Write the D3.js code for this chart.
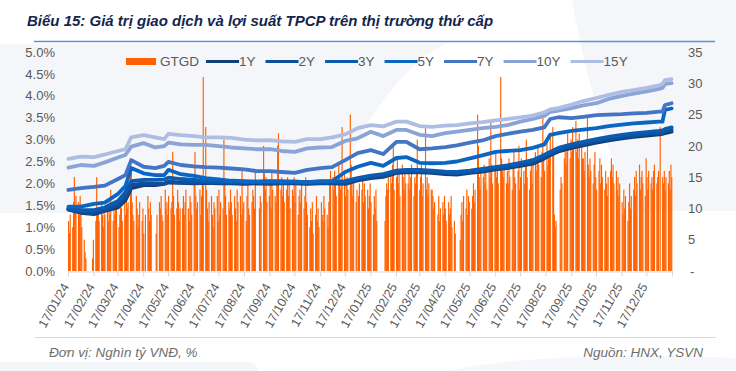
<!DOCTYPE html>
<html>
<head>
<meta charset="utf-8">
<title>Biểu 15</title>
<script src="https://d3js.org/d3.v7.min.js"></script>
<style>
  body { margin: 0; background: #fff; }
  svg { display: block; font-family: "Liberation Sans", Arial, sans-serif; }
  .axis text { fill: #595959; font-size: 13px; font-family: "Liberation Sans", Arial, sans-serif; }
  .axis path, .axis line { stroke: #d9d9d9; }
  .legend text { fill: #595959; font-size: 13.5px; }
  text.title { font-size: 15px; font-weight: bold; font-style: italic; fill: #14264f; }
  text.note { font-size: 13.5px; font-style: italic; fill: #6e6e6e; }
</style>
</head>
<body>
<svg width="736" height="371"></svg>
<script>
// ngày lấy mẫu cho các đường lợi suất
const lineDates = ['2024-01-17','2024-02-01','2024-02-17','2024-03-01','2024-03-17','2024-03-26','2024-04-02',
  '2024-04-17','2024-05-01','2024-05-12','2024-05-17','2024-06-01','2024-06-17','2024-07-01','2024-07-17',
  '2024-08-01','2024-08-17','2024-09-01','2024-09-17','2024-10-01','2024-10-17','2024-11-01','2024-11-17',
  '2024-12-01','2024-12-17','2025-01-01','2025-01-17','2025-02-01','2025-02-17','2025-03-01','2025-03-17',
  '2025-04-01','2025-04-17','2025-05-01','2025-05-17','2025-06-01','2025-06-17','2025-07-01','2025-07-17',
  '2025-08-01','2025-08-15','2025-08-22','2025-09-01','2025-09-17','2025-10-01','2025-10-17','2025-11-01',
  '2025-11-17','2025-12-01','2025-12-17','2026-01-01','2026-01-05','2026-01-08','2026-01-16'];

// lợi suất (%)
const y1 = [1.40,1.33,1.30,1.37,1.45,1.62,1.89,1.96,1.96,1.99,2.02,2.01,2.00,2.01,2.00,2.00,1.99,2.00,1.99,2.00,
  2.00,1.99,2.00,2.00,1.99,2.07,2.12,2.15,2.24,2.25,2.25,2.24,2.21,2.20,2.24,2.27,2.32,2.35,2.40,2.45,
  2.57,2.64,2.73,2.81,2.87,2.93,2.98,3.03,3.06,3.09,3.12,3.13,3.15,3.18];
const y2 = [1.41,1.35,1.32,1.39,1.51,1.69,1.96,2.00,1.99,2.00,2.04,2.02,2.02,2.02,2.02,2.01,2.01,2.02,2.01,2.01,
  2.02,2.01,2.02,2.01,2.01,2.09,2.15,2.17,2.26,2.27,2.27,2.26,2.24,2.23,2.26,2.29,2.34,2.37,2.42,2.49,
  2.60,2.67,2.76,2.84,2.90,2.97,3.01,3.06,3.09,3.13,3.15,3.16,3.20,3.23];
const y3 = [1.43,1.39,1.39,1.45,1.60,1.80,2.05,2.08,2.08,2.09,2.13,2.10,2.08,2.05,2.04,2.04,2.03,2.04,2.04,2.03,
  2.04,2.03,2.04,2.04,2.05,2.12,2.18,2.21,2.29,2.31,2.31,2.29,2.27,2.26,2.29,2.33,2.37,2.41,2.47,2.53,
  2.65,2.72,2.81,2.89,2.95,3.01,3.06,3.11,3.14,3.17,3.20,3.21,3.24,3.28];
const y5 = [1.47,1.47,1.53,1.56,1.76,1.94,2.35,2.23,2.19,2.19,2.31,2.21,2.17,2.12,2.09,2.06,2.05,2.04,2.05,2.05,
  2.04,2.03,2.05,2.05,2.26,2.38,2.47,2.40,2.58,2.60,2.47,2.46,2.47,2.50,2.57,2.64,2.72,2.74,2.76,2.81,
  2.89,3.11,3.15,3.20,3.23,3.26,3.31,3.34,3.37,3.39,3.41,3.41,3.68,3.71];
const y7 = [1.85,1.89,1.92,1.95,2.10,2.19,2.53,2.38,2.35,2.40,2.49,2.42,2.39,2.37,2.36,2.34,2.32,2.28,2.28,2.26,
  2.24,2.31,2.35,2.37,2.53,2.69,2.76,2.67,2.95,2.95,2.78,2.80,2.83,2.87,2.93,2.98,3.08,3.13,3.18,3.22,
  3.28,3.47,3.51,3.49,3.52,3.56,3.57,3.58,3.60,3.61,3.64,3.64,3.79,3.83];
const y10 = [2.36,2.42,2.40,2.48,2.59,2.65,2.84,2.92,2.82,2.85,2.93,2.89,2.88,2.88,2.85,2.82,2.80,2.78,2.78,2.74,
  2.72,2.80,2.82,2.83,2.97,3.03,3.18,3.08,3.22,3.22,3.11,3.08,3.15,3.18,3.22,3.26,3.29,3.33,3.41,3.47,
  3.54,3.63,3.66,3.72,3.78,3.83,3.93,4.00,4.05,4.10,4.16,4.18,4.27,4.29];
const y15 = [2.56,2.61,2.60,2.66,2.74,2.78,3.05,3.10,3.05,3.01,3.13,3.10,3.08,3.05,3.05,3.04,3.00,2.98,2.99,2.96,
  2.95,3.01,3.01,3.05,3.12,3.26,3.33,3.30,3.41,3.41,3.31,3.29,3.32,3.33,3.37,3.40,3.44,3.47,3.51,3.55,
  3.62,3.69,3.72,3.80,3.88,3.95,4.02,4.09,4.13,4.18,4.24,4.27,4.36,4.38];

// GTGD (nghìn tỷ VNĐ), một giá trị cho mỗi ngày thứ 2 - thứ 6 từ 17/01/24; 0 = nghỉ lễ
const gtgd = [
  8,6,9,7,11,15,10,12,11,9,12,                                  // 01/24
  10,7,5,3,2,0,0,0,0,0,2,5,8,15,9,10,8,11,9,7,10,               // 02/24
  9,10,8,11,9,13,8,10,9,11,10,7,9,12,10,8,11,9,12,10,11,        // 03/24
  18,16,11,9,8,12,10,7,9,11,8,10,6,0,9,12,10,8,11,9,0,0,        // 04/24
  0,6,9,11,10,12,9,8,13,10,11,9,12,10,11,19,12,9,10,13,11,8,10, // 05/24
  10,12,9,11,13,10,8,12,11,9,14,19,12,10,11,13,9,12,14,31,      // 06/24
  23,13,10,8,11,12,9,7,11,10,12,8,13,9,11,10,21,14,12,9,11,10,13, // 07/24
  11,9,12,10,8,13,11,12,9,16,10,11,8,12,14,10,9,11,13,12,10,16, // 08/24
  0,0,10,12,11,20,16,13,15,11,12,14,10,16,13,12,11,14,20,22,13, // 09/24
  15,12,14,11,13,15,12,14,10,13,12,15,11,14,9,12,13,11,14,10,12,15,11, // 10/24
  9,7,10,8,11,6,9,12,8,10,7,11,9,8,12,10,9,7,11,14,16,          // 11/24
  15,13,16,14,12,17,15,13,14,23,16,12,14,15,13,25,17,14,12,15,11,13, // 12/24
  0,12,14,13,15,11,14,12,13,10,12,14,11,9,12,10,13,8,0,0,0,0,0, // 01/25
  8,12,14,13,15,16,14,17,20,13,15,18,14,16,12,17,15,13,16,14,   // 02/25
  14,16,13,15,17,12,15,14,16,21,13,15,17,12,14,23,13,15,12,14,13, // 03/25
  13,12,10,11,0,9,12,8,10,11,9,12,10,8,11,9,10,12,7,8,6,0,      // 04/25
  0,0,5,9,11,8,12,10,13,9,12,11,10,12,14,11,13,25,20,15,13,16,  // 05/25
  15,17,14,16,13,18,15,24,17,14,16,19,15,17,14,31,18,16,15,17,14, // 06/25
  16,14,18,15,13,17,19,15,14,16,20,13,15,18,16,14,17,21,15,13,16,18,14, // 07/25
  17,19,16,18,20,17,15,19,25,18,16,21,17,19,18,22,23,19,9,7,8,  // 08/25
  0,0,13,15,14,18,20,17,19,22,18,21,19,23,20,24,19,21,18,22,20,18, // 09/25
  18,16,19,25,17,15,18,16,14,17,19,15,13,16,18,14,17,15,13,16,14,12,15, // 10/25
  16,18,15,17,14,16,13,15,12,14,11,9,13,10,12,8,11,14,10,12,    // 11/25
  13,15,12,16,14,17,13,15,16,14,12,18,15,13,16,14,15,13,16,17,14,15,16, // 12/25
  0,23,15,14,16,13,15,14,16,13,17,15                            // 01/26
];

const leftTicks = [0, 0.5, 1, 1.5, 2, 2.5, 3, 3.5, 4, 4.5, 5];
const rightTicks = [0, 5, 10, 15, 20, 25, 30, 35];
const xTicks = ['2024-01-17','2024-02-17','2024-03-17','2024-04-17','2024-05-17','2024-06-17','2024-07-17',
  '2024-08-17','2024-09-17','2024-10-17','2024-11-17','2024-12-17','2025-01-17','2025-02-17','2025-03-17',
  '2025-04-17','2025-05-17','2025-06-17','2025-07-17','2025-08-17','2025-09-17','2025-10-17','2025-11-17',
  '2025-12-17','2026-01-17'];

const seriesNames = ['1Y', '2Y', '3Y', '5Y', '7Y', '10Y', '15Y'];
const seriesValues = [y1, y2, y3, y5, y7, y10, y15];
const seriesColors = ['#123f7a', '#0d4f9a', '#0b5bb0', '#0a66c2', '#4475c4', '#8aa4d8', '#aebee3'];
const barColor = '#ff6100';

const parse = d3.timeParse('%Y-%m-%d');
const fmt = d3.timeFormat('%d/%m/%y');

const svg = d3.select('svg');
const plot = { left: 68, right: 672, top: 52, bottom: 271 };

// nền trang trí nhạt
svg.append('path')
  .attr('d', 'M0,44 H445 C395,70 348,140 332,213 H0 Z')
  .attr('fill', '#f4f6fa');
svg.append('path')
  .attr('d', 'M572,0 H736 V211 H632 C612,165 588,90 572,0 Z')
  .attr('fill', '#f4f6fa');
svg.append('rect')
  .attr('x', -12).attr('y', 362).attr('width', 270).attr('height', 30).attr('rx', 10)
  .attr('fill', '#f4f6fa');
svg.append('path')
  .attr('d', 'M450,371 C500,358 620,352 736,358 V371 Z')
  .attr('fill', '#f6f7fb');

const x = d3.scaleTime()
  .domain([parse('2024-01-17'), parse('2026-01-17')])
  .range([plot.left, plot.right]);
const yL = d3.scaleLinear().domain([0, 5]).range([plot.bottom, plot.top]);
const yR = d3.scaleLinear().domain([0, 35]).range([plot.bottom, plot.top]);
const dayW = x(parse('2024-01-18')) - x(parse('2024-01-17'));

// tiêu đề
svg.append('text')
  .attr('class', 'title')
  .attr('x', 27).attr('y', 26)
  .text('Biểu 15: Giá trị giao dịch và lợi suất TPCP trên thị trường thứ cấp');
svg.append('line')
  .attr('x1', 34).attr('x2', 715).attr('y1', 41.5).attr('y2', 41.5)
  .attr('stroke', '#5b93d3').attr('stroke-width', 1.5);

// cột GTGD theo ngày giao dịch
const tradeDays = [];
for (let d = parse('2024-01-17'); tradeDays.length < gtgd.length; d = d3.timeDay.offset(d, 1)) {
  if (d.getDay() !== 0 && d.getDay() !== 6) tradeDays.push(d);
}
const bars = gtgd.map((v, i) => ({ date: tradeDays[i], v: v })).filter(b => b.v > 0);

svg.append('g')
  .selectAll('rect')
  .data(bars)
  .join('rect')
  .attr('x', b => x(b.date))
  .attr('width', dayW * 1.4)
  .attr('y', b => yR(b.v))
  .attr('height', b => yR(0) - yR(b.v))
  .attr('fill', barColor);

// trục x
const xAxis = svg.append('g')
  .attr('class', 'axis')
  .attr('transform', `translate(0, ${plot.bottom + 0.5})`)
  .call(d3.axisBottom(x)
    .tickValues(xTicks.map(parse))
    .tickSize(5)
    .tickSizeOuter(0)
    .tickFormat((d, i) => i < xTicks.length - 1 ? fmt(d) : ''));
xAxis.attr('font-size', null).attr('font-family', null);
xAxis.selectAll('.tick text')
  .attr('y', 0).attr('dy', null)
  .attr('text-anchor', 'end')
  .attr('transform', 'translate(1, 15) rotate(-60)')
  .style('font-size', '12.5px');

// trục trái (%)
const leftAxis = svg.append('g')
  .attr('class', 'axis')
  .attr('transform', 'translate(55, 0)')
  .call(d3.axisLeft(yL).tickValues(leftTicks).tickSize(0).tickPadding(0)
    .tickFormat(d => d.toFixed(1) + '%'));
leftAxis.attr('font-size', null).attr('font-family', null);
leftAxis.select('.domain').remove();

// trục phải (nghìn tỷ)
const rightAxis = svg.append('g')
  .attr('class', 'axis')
  .attr('transform', 'translate(688, 0)')
  .call(d3.axisRight(yR).tickValues(rightTicks).tickSize(0).tickPadding(0)
    .tickFormat(d => d === 0 ? '-' : d));
rightAxis.attr('font-size', null).attr('font-family', null);
rightAxis.select('.domain').remove();
rightAxis.selectAll('.tick text').filter(d => d === 0).attr('x', 2);

// đường lợi suất
const line = d3.line()
  .x(p => x(p.date) + dayW / 2)
  .y(p => yL(p.v));

seriesValues.forEach((vals, k) => {
  svg.append('path')
    .datum(vals.map((v, i) => ({ date: parse(lineDates[i]), v: v })))
    .attr('fill', 'none')
    .attr('stroke', seriesColors[k])
    .attr('stroke-width', 3.8)
    .attr('stroke-linejoin', 'round')
    .attr('stroke-linecap', 'round')
    .attr('d', line);
});

// chú thích
const legend = svg.append('g').attr('class', 'legend');
let lx = 126;
legend.append('rect')
  .attr('x', lx).attr('y', 58).attr('width', 30).attr('height', 7)
  .attr('fill', barColor);
const gt = legend.append('text').attr('x', lx + 34).attr('y', 66).text('GTGD');
lx += 34 + gt.node().getComputedTextLength() + 7;
seriesNames.forEach((name, k) => {
  legend.append('line')
    .attr('x1', lx).attr('x2', lx + 33).attr('y1', 61.5).attr('y2', 61.5)
    .attr('stroke', seriesColors[k]).attr('stroke-width', 3);
  const t = legend.append('text').attr('x', lx + 33).attr('y', 66).text(name);
  lx += 33 + t.node().getComputedTextLength() + 10;
});

// đường kẻ dưới và ghi chú
svg.append('line')
  .attr('x1', 35).attr('x2', 716).attr('y1', 337.5).attr('y2', 337.5)
  .attr('stroke', '#d9d9d9');
svg.append('text')
  .attr('class', 'note')
  .attr('x', 49).attr('y', 357)
  .text('Đơn vị: Nghìn tỷ VNĐ, %');
svg.append('text')
  .attr('class', 'note')
  .attr('x', 703).attr('y', 357)
  .attr('text-anchor', 'end')
  .text('Nguồn: HNX, YSVN');
</script>
</body>
</html>
